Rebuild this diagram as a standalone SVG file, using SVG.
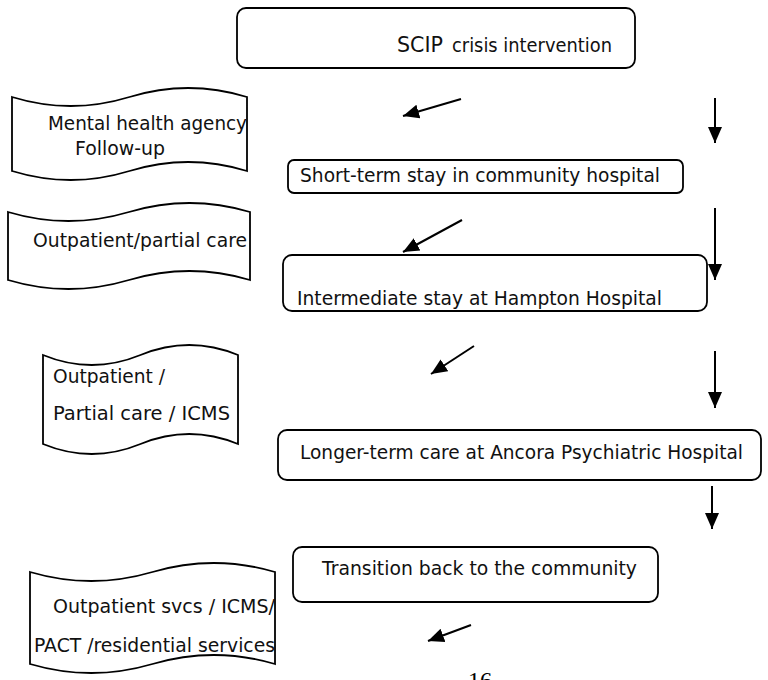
<svg xmlns="http://www.w3.org/2000/svg" width="768" height="680" viewBox="0 0 768 680">
<style>
  .box { fill: #ffffff; stroke: #000000; stroke-width: 1.8; }
  .tape { fill: #ffffff; stroke: #000000; stroke-width: 1.8; }
  .lbl { font-family: "DejaVu Sans", Verdana, sans-serif; font-size: 20px; fill: #111111; }
  .big { font-size: 22px; }
  .arrow { stroke: #000000; stroke-width: 2; fill: none; marker-end: url(#ah); }
  .pg { font-family: "Liberation Serif", "Times New Roman", serif; font-size: 24px; fill: #000000; }
</style>
<defs>
  <marker id="ah" markerUnits="userSpaceOnUse" markerWidth="18" markerHeight="16" refX="16" refY="7" orient="auto" viewBox="0 0 18 14">
    <path d="M0,0 L16,7 L0,14 z" fill="#000000"/>
  </marker>
</defs>

<g id="node-scip">
  <rect class="box" x="237" y="8" width="398" height="60" rx="9"/>
  <text class="lbl" y="52"><tspan class="big" x="397" textLength="46" lengthAdjust="spacingAndGlyphs">SCIP</tspan><tspan x="452" textLength="160" lengthAdjust="spacingAndGlyphs">crisis intervention</tspan></text>
</g>

<g id="node-mental-health">
  <path class="tape" d="M12,97 Q70.75,115 129.5,97 Q188.25,79 247,97 L247,171 Q188.25,153 129.5,171 Q70.75,189 12,171 Z"/>
  <text class="lbl" x="48" y="130" textLength="199" lengthAdjust="spacingAndGlyphs">Mental health agency</text>
  <text class="lbl" x="75" y="155" textLength="90" lengthAdjust="spacingAndGlyphs">Follow-up</text>
</g>

<g id="node-short-term">
  <rect class="box" x="288" y="160" width="395" height="33" rx="6"/>
  <text class="lbl" x="300" y="182" textLength="360" lengthAdjust="spacingAndGlyphs">Short-term stay in community hospital</text>
</g>

<g id="node-outpatient-partial">
  <path class="tape" d="M8,212 Q68.5,230 129,212 Q189.5,194 250,212 L250,280 Q189.5,262 129,280 Q68.5,298 8,280 Z"/>
  <text class="lbl" x="33" y="247" textLength="214" lengthAdjust="spacingAndGlyphs">Outpatient/partial care</text>
</g>

<g id="node-intermediate">
  <rect class="box" x="283" y="255" width="424" height="56" rx="9"/>
  <text class="lbl" x="297" y="305" textLength="365" lengthAdjust="spacingAndGlyphs">Intermediate stay at Hampton Hospital</text>
</g>

<g id="node-outpatient-icms">
  <path class="tape" d="M43,355 Q91.75,375 140.5,355 Q189.25,335 238,355 L238,444 Q189.25,424 140.5,444 Q91.75,464 43,444 Z"/>
  <text class="lbl" x="53" y="383" textLength="112" lengthAdjust="spacingAndGlyphs">Outpatient /</text>
  <text class="lbl" x="53" y="420" textLength="177" lengthAdjust="spacingAndGlyphs">Partial care / ICMS</text>
</g>

<g id="node-longer-term">
  <rect class="box" x="278" y="430" width="483" height="50" rx="9"/>
  <text class="lbl" x="300" y="459" textLength="443" lengthAdjust="spacingAndGlyphs">Longer-term care at Ancora Psychiatric Hospital</text>
</g>

<g id="node-transition">
  <rect class="box" x="293" y="547" width="365" height="55" rx="9"/>
  <text class="lbl" x="322" y="575" textLength="315" lengthAdjust="spacingAndGlyphs">Transition back to the community</text>
</g>

<g id="node-outpatient-svcs">
  <path class="tape" d="M30,572 Q91.25,590 152.5,572 Q213.75,554 275,572 L275,664 Q213.75,646 152.5,664 Q91.25,682 30,664 Z"/>
  <text class="lbl" x="53" y="613" textLength="222" lengthAdjust="spacingAndGlyphs">Outpatient svcs / ICMS/</text>
  <text class="lbl" x="34" y="652" textLength="241" lengthAdjust="spacingAndGlyphs">PACT /residential services</text>
</g>

<g id="connectors">
  <line class="arrow" x1="461" y1="99" x2="403" y2="116"/>
  <line class="arrow" x1="715" y1="98" x2="715" y2="143"/>
  <line class="arrow" x1="462" y1="220" x2="403" y2="252"/>
  <line class="arrow" x1="715" y1="208" x2="715" y2="280"/>
  <line class="arrow" x1="474" y1="346" x2="431" y2="374"/>
  <line class="arrow" x1="715" y1="351" x2="715" y2="408"/>
  <line class="arrow" x1="712" y1="486" x2="712" y2="529"/>
  <line class="arrow" x1="471" y1="625" x2="428" y2="641"/>
</g>

<text id="page-number" class="pg" x="468" y="688">16</text>
</svg>
